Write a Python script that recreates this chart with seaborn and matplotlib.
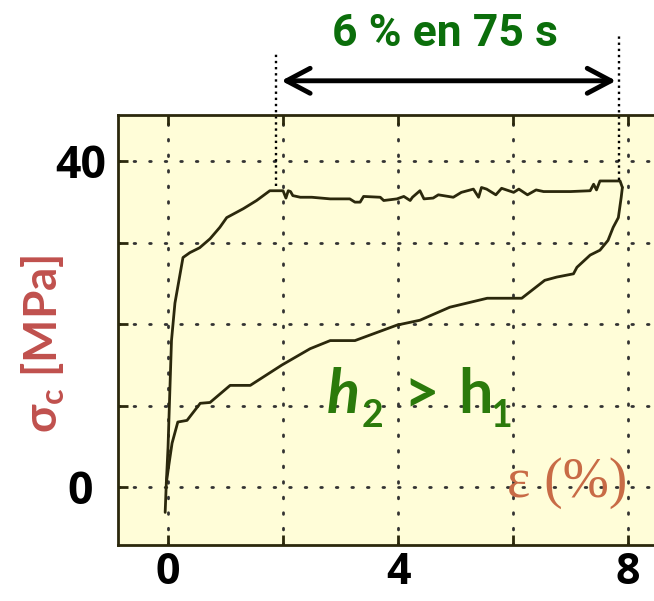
"""
Courbe contrainte-déformation : boucle sigma_c / epsilon
"""

import pandas as pd
import matplotlib
matplotlib.use('Agg')
import matplotlib.pyplot as plt
import seaborn as sns

# ==================== 数据 ====================
# branche supérieure (charge + palier)
up_strain = [-0.05, -0.03, 0.00, 0.03, 0.06, 0.12, 0.20, 0.26, 0.38, 0.55,
             0.73, 0.90, 1.02, 1.31, 1.54, 1.77, 2.00, 2.05, 2.09, 2.13,
             2.17, 2.30, 2.50, 2.82, 3.16, 3.25, 3.34, 3.40, 3.69, 3.75,
             3.98, 4.10, 4.21, 4.25, 4.38, 4.45, 4.61, 4.70, 4.96, 5.10,
             5.31, 5.40, 5.45, 5.54, 5.70, 5.80, 6.01, 6.10, 6.25, 6.40,
             6.53, 7.00, 7.34, 7.40, 7.45, 7.51, 7.70, 7.86, 7.90]
up_stress = [-3.1, 0.5, 4.9, 11.5, 18.0, 22.6, 25.8, 28.2, 28.8, 29.4,
             30.5, 31.9, 33.1, 34.2, 35.2, 36.4, 36.4, 35.5, 36.4, 36.3,
             35.8, 35.6, 35.6, 35.4, 35.4, 35.0, 35.0, 35.7, 35.6, 35.2,
             35.4, 35.7, 35.2, 35.6, 36.4, 35.4, 35.5, 35.9, 35.6, 36.2,
             36.6, 35.6, 36.8, 36.6, 35.9, 36.7, 36.2, 36.6, 35.9, 36.5,
             36.3, 36.3, 36.4, 37.2, 36.5, 37.6, 37.6, 37.6, 36.8]

# branche inférieure (retour)
down_strain = [7.90, 7.88, 7.83, 7.74, 7.65, 7.51, 7.34, 7.11, 7.05, 6.76,
               6.55, 6.35, 6.15, 5.55, 4.90, 4.38, 3.98, 3.25, 2.82, 2.47,
               1.98, 1.43, 1.08, 0.73, 0.56, 0.33, 0.17, 0.07, 0.02, -0.03]
down_stress = [36.8, 35.6, 33.1, 31.9, 30.3, 29.1, 28.5, 27.0, 26.2, 25.8,
               25.4, 24.3, 23.2, 23.2, 22.1, 20.5, 19.9, 18.0, 18.0, 17.0,
               15.0, 12.5, 12.5, 10.4, 10.3, 8.2, 8.0, 5.4, 3.0, 0.5]

x_ticks = [0, 2, 4, 6, 8]
x_labels = ['0', '', '4', '', '8']
y_ticks = [0, 10, 20, 30, 40]
y_labels = ['0', '', '', '', '40']

window_strain = [1.87, 7.84]     # début / fin de la fenêtre "6 % en 75 s"
window_stress = [37.0, 37.7]

# ==================== 样式 ====================
sns.set_theme(style='white')
plt.rcParams['font.family'] = ['Lato', 'DejaVu Sans']

INK = '#2b280c'
GREEN_TOP = '#0b6e0b'
GREEN_H = '#2b7a0b'
RED = '#c0504d'
ORANGE = '#c86b46'
TICK_FONT = ['Open Sans', 'DejaVu Sans']

fig = plt.figure(figsize=(6.54, 6.01), dpi=100)
ax = fig.add_axes([118 / 654, 56 / 601, 536 / 654, 430 / 601])
ax.set_facecolor('#fffdd8')

df_up = pd.DataFrame({'strain': up_strain, 'stress': up_stress})
df_down = pd.DataFrame({'strain': down_strain, 'stress': down_stress})
sns.lineplot(data=df_up, x='strain', y='stress', sort=False, estimator=None,
             color=INK, linewidth=2.0, ax=ax)
sns.lineplot(data=df_down, x='strain', y='stress', sort=False, estimator=None,
             color=INK, linewidth=2.0, ax=ax)

ax.set_xlim(-0.87, 8.45)
ax.set_ylim(-7.1, 45.7)

# grille pointillée
ax.grid(True, linestyle=(0, (0.6, 5.0)), linewidth=2.0, color='#333333',
        dash_capstyle='round')

ax.set_xticks(x_ticks)
ax.set_xticklabels(x_labels, fontsize=31, fontweight='bold', color='black',
                   family=TICK_FONT)
ax.set_yticks(y_ticks)
ax.set_yticklabels(y_labels, fontsize=32, fontweight='bold', color='black',
                   ha='center', family=TICK_FONT)
ax.tick_params(axis='x', direction='in', length=7, width=2, color=INK,
               top=True, bottom=True, pad=4)
ax.tick_params(axis='y', direction='in', length=7, width=2, color=INK,
               left=True, right=False, pad=27)

for side in ['left', 'bottom', 'top']:
    ax.spines[side].set_color(INK)
    ax.spines[side].set_linewidth(2)
ax.spines['right'].set_visible(False)

ax.set_xlabel('')
ax.set_ylabel(r'σ$_\mathregular{c}$ [MPa]', fontsize=33, fontweight='bold',
              color=RED, va='center')
ax.yaxis.set_label_coords(-0.14, 0.467)

# fenêtre temporelle
for xs, ys, ytop in zip(window_strain, window_stress, [53.6, 55.5]):
    ax.plot([xs, xs], [ys, ytop], linestyle=(0, (1, 1.6)), color='black',
            linewidth=1.7, clip_on=False)

ax.annotate('', xy=(7.79, 49.9), xytext=(1.97, 49.9), annotation_clip=False,
            arrowprops=dict(arrowstyle='<->,head_length=0.85,head_width=0.45',
                            lw=3.5, color='black', shrinkA=0, shrinkB=0,
                            mutation_scale=20))
ax.text(4.82, 54.2, '6 % en 75 s', ha='center', va='baseline', fontsize=32,
        fontweight='bold', color=GREEN_TOP, family='Roboto', clip_on=False)

# h2 > h1
ax.text(2.76, 9.1, 'h', fontsize=44, fontweight='bold', fontstyle='italic',
        color=GREEN_H, ha='left', va='baseline')
ax.text(3.36, 7.4, '2', fontsize=27, fontweight='bold', color=GREEN_H,
        ha='left', va='baseline')
ax.text(4.10, 9.1, '>', fontsize=44, fontweight='bold', color=GREEN_H,
        ha='left', va='baseline')
ax.text(5.04, 9.1, 'h', fontsize=44, fontweight='bold', color=GREEN_H,
        ha='left', va='baseline')
ax.text(5.60, 7.4, '1', fontsize=27, fontweight='bold', color=GREEN_H,
        ha='left', va='baseline')

# epsilon (%)
ax.text(5.9, -1.2, 'ε (%)', fontsize=40, color=ORANGE,
        family=['Liberation Serif', 'DejaVu Serif'], ha='left', va='baseline')

fig.savefig('out.png', dpi=100, facecolor='white')
plt.close(fig)
